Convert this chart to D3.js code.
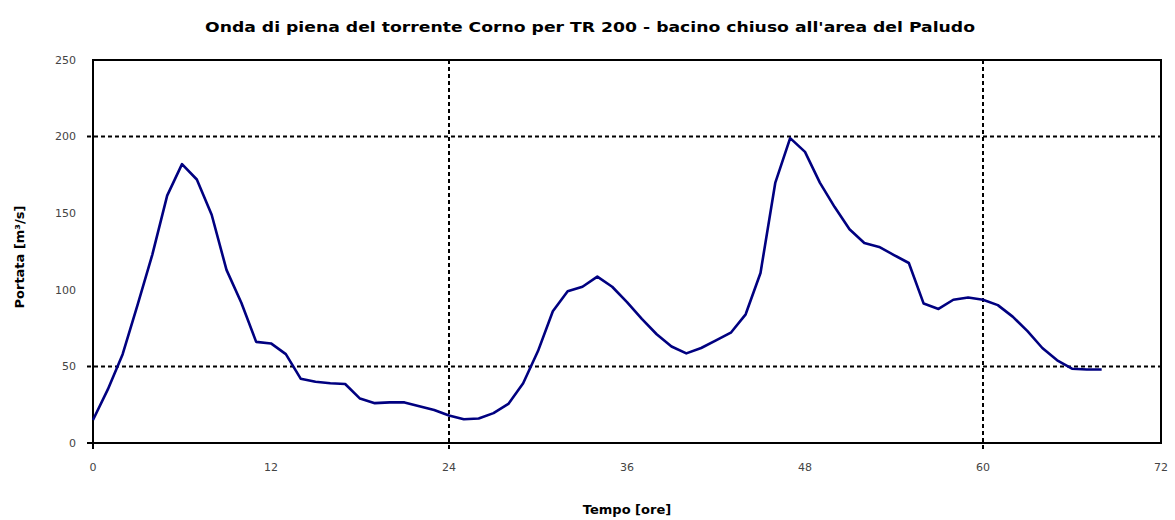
<!DOCTYPE html>
<html>
<head>
<meta charset="utf-8">
<script src="https://cdn.jsdelivr.net/npm/d3@7"></script>
<style>
  body { margin: 0; background: #fff; }
  svg { display: block; font-family: "DejaVu Sans", sans-serif; }
  .tick-label { font-size: 11px; fill: #444; }
  .axis-title { font-size: 13px; font-weight: bold; fill: #000; }
</style>
</head>
<body>
<svg id="chart" width="1175" height="520"></svg>
<script>
// hours since start of event
const hours = d3.range(0, 69);
// discharge [m3/s]
const discharge = [
  15, 35, 58, 90, 123, 161.5, 182, 172, 149, 113,
  91.5, 66, 65, 58, 42, 40, 39, 38.5, 29, 26,
  26.5, 26.5, 24, 21.5, 18, 15.5, 16, 19.5, 25.5, 39,
  60, 86, 99, 102, 108.6, 102, 92, 81, 71, 63,
  58.5, 62, 67, 72, 84, 111, 170, 199, 190, 170,
  154, 139.5, 130.5, 128, 122.7, 117.5, 91, 87.5, 93.5, 95,
  93.5, 90, 82.5, 73, 62, 54, 48.5, 48, 48
];
const xTicks = [0, 12, 24, 36, 48, 60, 72];
const yTicks = [0, 50, 100, 150, 200, 250];
const xGrid = [24, 60];
const yGrid = [50, 200];

const title = "Onda di piena del torrente Corno per TR 200 - bacino chiuso all'area del Paludo";

const svg = d3.select("#chart");
const margin = { left: 93, right: 1161, top: 60, bottom: 443 };

const x = d3.scaleLinear().domain([0, 72]).range([margin.left, margin.right]);
const y = d3.scaleLinear().domain([0, 250]).range([margin.bottom, margin.top]);

// gridlines (dashed, poking out past the frame like ticks)
svg.append("g").selectAll("line").data(yGrid).join("line")
  .attr("x1", margin.left - 6).attr("x2", margin.right)
  .attr("y1", d => y(d)).attr("y2", d => y(d))
  .attr("stroke", "#000").attr("stroke-width", 2).attr("stroke-dasharray", "4,3");

svg.append("g").selectAll("line").data(xGrid).join("line")
  .attr("x1", d => x(d)).attr("x2", d => x(d))
  .attr("y1", margin.top).attr("y2", margin.bottom + 6)
  .attr("stroke", "#000").attr("stroke-width", 2).attr("stroke-dasharray", "4,3");

// frame
svg.append("rect")
  .attr("x", margin.left).attr("y", margin.top)
  .attr("width", margin.right - margin.left).attr("height", margin.bottom - margin.top)
  .attr("fill", "none").attr("stroke", "#000").attr("stroke-width", 2);

// small ticks at the origin
svg.append("line").attr("x1", margin.left - 6).attr("x2", margin.left)
  .attr("y1", y(0)).attr("y2", y(0)).attr("stroke", "#000").attr("stroke-width", 2);
svg.append("line").attr("x1", x(0)).attr("x2", x(0))
  .attr("y1", margin.bottom).attr("y2", margin.bottom + 6).attr("stroke", "#000").attr("stroke-width", 2);

// tick labels
svg.append("g").selectAll("text").data(yTicks).join("text")
  .attr("class", "tick-label")
  .attr("x", 76).attr("y", d => y(d)).attr("dy", "0.35em")
  .attr("text-anchor", "end")
  .text(d => d);

svg.append("g").selectAll("text").data(xTicks).join("text")
  .attr("class", "tick-label")
  .attr("x", d => x(d)).attr("y", 471)
  .attr("text-anchor", "middle")
  .text(d => d);

// hydrograph
const line = d3.line()
  .x((d, i) => x(hours[i]))
  .y(d => y(d));

svg.append("path")
  .datum(discharge)
  .attr("d", line)
  .attr("fill", "none")
  .attr("stroke", "#000080")
  .attr("stroke-width", 2.6)
  .attr("stroke-linejoin", "round");

// titles
svg.append("text")
  .attr("x", 590).attr("y", 32)
  .attr("text-anchor", "middle")
  .attr("font-size", 14).attr("font-weight", "bold")
  .attr("textLength", 770).attr("lengthAdjust", "spacingAndGlyphs")
  .text(title);

svg.append("text")
  .attr("class", "axis-title")
  .attr("x", 627).attr("y", 514)
  .attr("text-anchor", "middle")
  .text("Tempo [ore]");

svg.append("text")
  .attr("class", "axis-title")
  .attr("transform", "translate(24,257) rotate(-90)")
  .attr("text-anchor", "middle")
  .text("Portata [m³/s]");
</script>
</body>
</html>
